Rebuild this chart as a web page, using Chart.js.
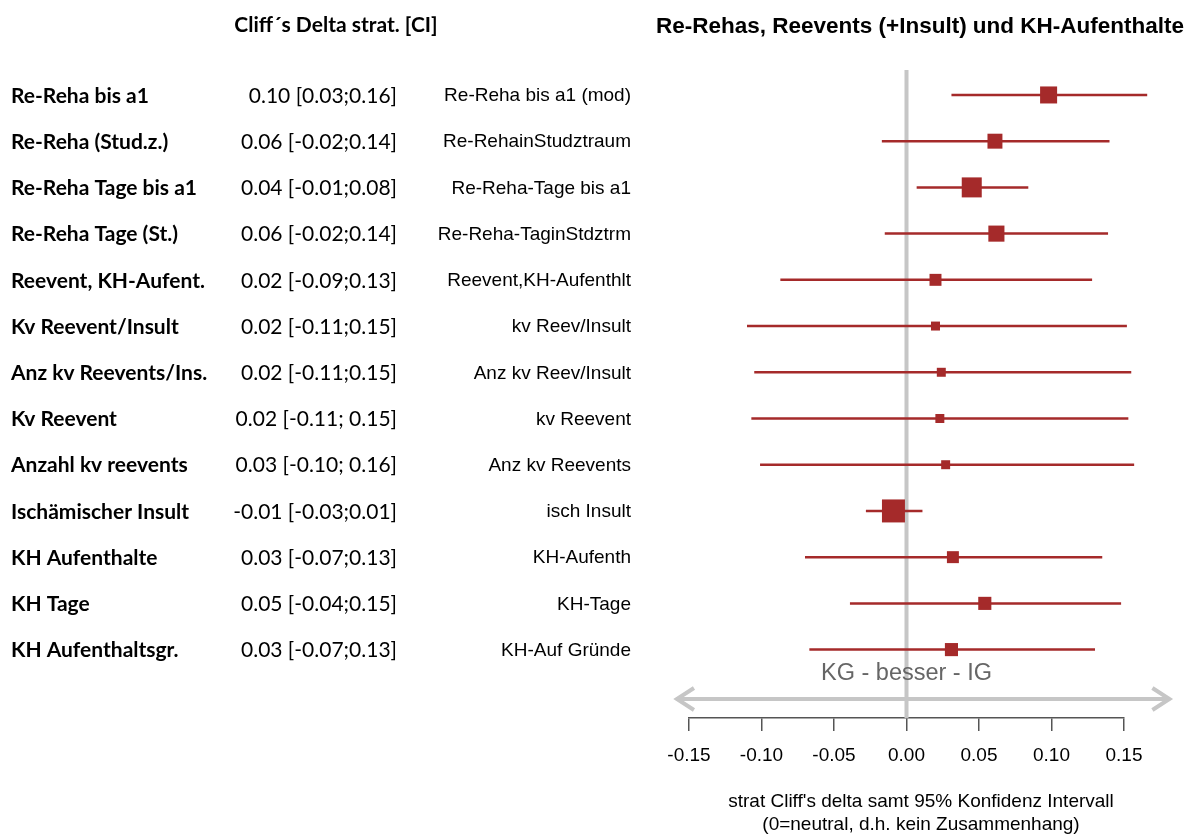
<!DOCTYPE html>
<html>
<head>
<meta charset="utf-8">
<script src="https://cdn.jsdelivr.net/npm/chart.js@4"></script>
<style>
  body { margin: 0; background: #fff; }
  canvas { display: block; }
</style>
</head>
<body>
<canvas id="forest" width="1198" height="836"></canvas>
<script>
// rows, top to bottom
const rowLabels = [
    "Re-Reha bis a1", "Re-Reha (Stud.z.)", "Re-Reha Tage bis a1", "Re-Reha Tage (St.)",
    "Reevent, KH-Aufent.", "Kv Reevent/Insult", "Anz kv Reevents/Ins.", "Kv Reevent",
    "Anzahl kv reevents", "Ischämischer Insult", "KH Aufenthalte", "KH Tage", "KH Aufenthaltsgr."
];
const ciTexts = [
    "0.10 [0.03;0.16]", "0.06 [-0.02;0.14]", "0.04 [-0.01;0.08]", "0.06 [-0.02;0.14]",
    "0.02 [-0.09;0.13]", "0.02 [-0.11;0.15]", "0.02 [-0.11;0.15]", "0.02 [-0.11; 0.15]",
    "0.03 [-0.10; 0.16]", "-0.01 [-0.03;0.01]", "0.03 [-0.07;0.13]", "0.05 [-0.04;0.15]",
    "0.03 [-0.07;0.13]"
];
const varNames = [
    "Re-Reha bis a1 (mod)", "Re-RehainStudztraum", "Re-Reha-Tage bis a1", "Re-Reha-TaginStdztrm",
    "Reevent,KH-Aufenthlt", "kv Reev/Insult", "Anz kv Reev/Insult", "kv Reevent",
    "Anz kv Reevents", "isch Insult", "KH-Aufenth", "KH-Tage", "KH-Auf Gründe"
];
const estimates = [0.098, 0.061, 0.045, 0.062, 0.020, 0.020, 0.024, 0.023, 0.027, -0.009, 0.032, 0.054, 0.031];
const lower = [0.031, -0.017, 0.007, -0.015, -0.087, -0.110, -0.105, -0.107, -0.101, -0.028, -0.070, -0.039, -0.067];
const upper = [0.166, 0.140, 0.084, 0.139, 0.128, 0.152, 0.155, 0.153, 0.157, 0.011, 0.135, 0.148, 0.130];
// relative box weights (largest = 1)
const weights = [0.74, 0.65, 0.87, 0.70, 0.52, 0.39, 0.39, 0.39, 0.39, 1.00, 0.52, 0.57, 0.57];
const xTicks = [-0.15, -0.10, -0.05, 0.00, 0.05, 0.10, 0.15];

const red = "#a52a2a";
const grey = "#c6c6c6";
const maxBox = 23;

const ciSets = rowLabels.map((lab, i) => ({
    label: lab,
    data: [{ x: lower[i], y: i + 1 }, { x: upper[i], y: i + 1 }],
    showLine: true,
    borderColor: red,
    borderWidth: 2.5,
    pointRadius: 0,
    clip: false
}));

const boxSet = {
    label: "estimate",
    data: estimates.map((v, i) => ({ x: v, y: i + 1 })),
    pointStyle: "rect",
    pointRadius: weights.map(w => w * maxBox / Math.SQRT2),
    pointBackgroundColor: red,
    pointBorderWidth: 0,
    showLine: false,
    clip: false
};

const textPlugin = {
    id: "forestText",
    beforeDatasetsDraw(chart) {
        const { ctx, chartArea, scales: { x } } = chart;
        const x0 = x.getPixelForValue(0);
        ctx.save();
        ctx.strokeStyle = grey;
        ctx.lineWidth = 4;
        ctx.beginPath();
        ctx.moveTo(x0, chartArea.top);
        ctx.lineTo(x0, chartArea.bottom);
        ctx.stroke();
        ctx.restore();
    },
    afterDraw(chart) {
        const { ctx, scales: { x, y } } = chart;
        ctx.save();
        ctx.textBaseline = "middle";

        // headings
        ctx.fillStyle = "#000";
        ctx.font = "bold 21px Lato";
        ctx.textAlign = "center";
        ctx.fillText("Cliff´s Delta strat. [CI]", 336, 25);
        ctx.font = "bold 22.5px 'Liberation Sans'";
        ctx.fillText("Re-Rehas, Reevents (+Insult) und KH-Aufenthalte", 920, 27);

        // table columns
        rowLabels.forEach((lab, i) => {
            const py = y.getPixelForValue(i + 1) + 1;
            ctx.textAlign = "left";
            ctx.font = "bold 21px Lato";
            ctx.fillText(lab, 11, py);
            ctx.textAlign = "right";
            ctx.font = "21px Lato";
            ctx.fillText(ciTexts[i], 397, py);
            ctx.font = "19px 'Liberation Sans'";
            ctx.fillText(varNames[i], 631, py);
        });

        // direction arrow
        const ay = y.getPixelForValue(14.07);
        const ax1 = x.getPixelForValue(-0.159);
        const ax2 = x.getPixelForValue(0.182);
        ctx.strokeStyle = grey;
        ctx.lineWidth = 4;
        ctx.lineCap = "butt";
        ctx.beginPath();
        ctx.moveTo(ax1, ay); ctx.lineTo(ax2, ay);
        ctx.moveTo(ax1 + 18, ay - 11); ctx.lineTo(ax1 + 1, ay); ctx.lineTo(ax1 + 18, ay + 11);
        ctx.moveTo(ax2 - 18, ay - 11); ctx.lineTo(ax2 - 1, ay); ctx.lineTo(ax2 - 18, ay + 11);
        ctx.stroke();

        ctx.fillStyle = "#666";
        ctx.textAlign = "center";
        ctx.font = "23.5px 'Liberation Sans'";
        ctx.fillText("KG - besser - IG", x.getPixelForValue(0), 674);

        // axis title
        ctx.fillStyle = "#000";
        ctx.font = "19px 'Liberation Sans'";
        ctx.fillText("strat Cliff's delta samt 95% Konfidenz Intervall", 921, 802);
        ctx.fillText("(0=neutral, d.h. kein Zusammenhang)", 921, 825);
        ctx.restore();
    }
};

new Chart(document.getElementById("forest"), {
    type: "scatter",
    data: { datasets: [boxSet, ...ciSets] },
    options: {
        responsive: false,
        animation: false,
        layout: { padding: { left: 689, right: 74, top: 70, bottom: 0 } },
        plugins: { legend: { display: false }, tooltip: { enabled: false } },
        scales: {
            x: {
                type: "linear",
                min: -0.15,
                max: 0.15,
                afterFit: s => { s.height = 118; },
                afterBuildTicks: s => { s.ticks = xTicks.map(v => ({ value: v })); },
                ticks: {
                    callback: v => v.toFixed(2),
                    color: "#000",
                    font: { family: "'Liberation Sans'", size: 19 },
                    padding: 13,
                    maxRotation: 0
                },
                grid: { drawOnChartArea: false, drawTicks: true, tickLength: 13, color: "#555", lineWidth: 1.5 },
                border: { display: true, color: "#555", width: 1.5 }
            },
            y: {
                type: "linear",
                reverse: true,
                min: 0.46,
                max: 14.48,
                display: false
            }
        }
    },
    plugins: [textPlugin]
});
</script>
</body>
</html>
